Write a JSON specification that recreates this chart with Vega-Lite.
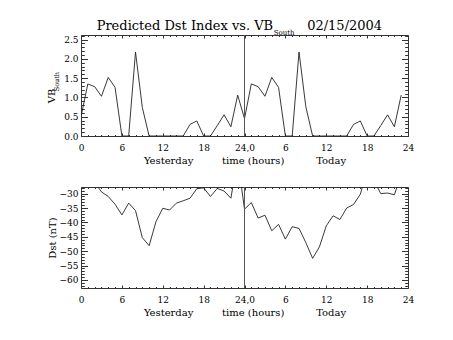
{
  "$schema": "https://vega.github.io/schema/vega-lite/v6.json",
  "padding": {"left": 46, "top": 19, "right": 5, "bottom": 5},
  "background": "white",
  "data": {"values": [
    {"h":0,"vb":0.50,"dst":-24},{"h":1,"vb":1.35,"dst":-25},{"h":2,"vb":1.28,"dst":-26},{"h":3,"vb":1.03,"dst":-29.4},
    {"h":4,"vb":1.52,"dst":-31.0},{"h":5,"vb":1.26,"dst":-33.7},{"h":6,"vb":0,"dst":-37.4},{"h":7,"vb":0,"dst":-33.3},
    {"h":8,"vb":2.18,"dst":-35.9},{"h":9,"vb":0.74,"dst":-45.3},{"h":10,"vb":0,"dst":-48.1},{"h":11,"vb":0,"dst":-39.8},
    {"h":12,"vb":0,"dst":-35.1},{"h":13,"vb":0,"dst":-35.7},{"h":14,"vb":0,"dst":-33.3},{"h":15,"vb":0,"dst":-32.5},
    {"h":16,"vb":0.30,"dst":-31.6},{"h":17,"vb":0.39,"dst":-28.3},{"h":18,"vb":0,"dst":-28.0},{"h":19,"vb":0,"dst":-31.0},
    {"h":20,"vb":0.27,"dst":-28.2},{"h":21,"vb":0.55,"dst":-29.1},{"h":22,"vb":0.24,"dst":-31.6},{"h":23,"vb":1.06,"dst":-18},
    {"h":24,"vb":0.45,"dst":-35.4},{"h":25,"vb":1.35,"dst":-33.1},{"h":26,"vb":1.28,"dst":-38.5},{"h":27,"vb":1.03,"dst":-37.5},
    {"h":28,"vb":1.52,"dst":-42.9},{"h":29,"vb":1.26,"dst":-40.7},{"h":30,"vb":0,"dst":-45.8},{"h":31,"vb":0,"dst":-41.5},
    {"h":32,"vb":2.18,"dst":-42.1},{"h":33,"vb":0.76,"dst":-47.0},{"h":34,"vb":0,"dst":-52.5},{"h":35,"vb":0,"dst":-48.5},
    {"h":36,"vb":0,"dst":-41.2},{"h":37,"vb":0,"dst":-37.7},{"h":38,"vb":0,"dst":-39.0},{"h":39,"vb":0,"dst":-35.0},
    {"h":40,"vb":0.30,"dst":-33.8},{"h":41,"vb":0.39,"dst":-30.2},{"h":42,"vb":0,"dst":-22},{"h":43,"vb":0,"dst":-25.4},
    {"h":44,"vb":0.27,"dst":-30.0},{"h":45,"vb":0.55,"dst":-29.8},{"h":46,"vb":0.24,"dst":-30.4},{"h":47,"vb":1.06,"dst":-23.5}
  ]},
  "vconcat": [
    {
      "width": 327, "height": 101,
      "layer": [
        {
          "mark": {"type": "line", "clip": true, "color": "#222222", "strokeWidth": 0.9},
          "encoding": {
            "x": {"field": "h", "type": "quantitative", "scale": {"domain": [0, 48], "nice": false, "zero": false},
              "axis": {"orient": "bottom", "values": [0,1,2,3,4,5,6,7,8,9,10,11,12,13,14,15,16,17,18,19,20,21,22,23,24,25,26,27,28,29,30,31,32,33,34,35,36,37,38,39,40,41,42,43,44,45,46,47,48],
                "labelExpr": "datum.value % 6 == 0 ? (datum.value == 24 ? '24,0' : toString(datum.value > 24 ? datum.value - 24 : datum.value)) : ''",
                "tickSize": {"condition": {"test": "datum.value % 6 == 0", "value": -3}, "value": -1.5},
                "labelPadding": 10, "title": "Yesterday\u00a0\u00a0\u00a0\u00a0\u00a0\u00a0\u00a0\u00a0\u00a0time (hours)\u00a0\u00a0\u00a0\u00a0\u00a0\u00a0\u00a0\u00a0\u00a0\u00a0Today", "titlePadding": 2}},
            "y": {"field": "vb", "type": "quantitative", "scale": {"domain": [0, 2.62], "nice": false, "zero": false},
              "axis": {"orient": "left", "values": [0,0.1,0.2,0.3,0.4,0.5,0.6,0.7,0.8,0.9,1,1.1,1.2,1.3,1.4,1.5,1.6,1.7,1.8,1.9,2,2.1,2.2,2.3,2.4,2.5,2.6],
                "labelExpr": "abs(datum.value*2 - round(datum.value*2)) < 0.001 ? format(datum.value, '.1f') : ''",
                "tickSize": {"condition": {"test": "abs(datum.value*2 - round(datum.value*2)) < 0.001", "value": -6.5}, "value": -3.3},
                "labelPadding": 9.5, "title": null}}
          }
        },
        {
          "data": {"values": [{"a": 1}]},
          "mark": {"type": "rule", "color": "#555555", "strokeWidth": 1},
          "encoding": {
            "x": {"datum": 24, "type": "quantitative",
              "axis": {"orient": "top", "values": [0,1,2,3,4,5,6,7,8,9,10,11,12,13,14,15,16,17,18,19,20,21,22,23,24,25,26,27,28,29,30,31,32,33,34,35,36,37,38,39,40,41,42,43,44,45,46,47,48],
                "labels": false, "tickSize": {"condition": {"test": "datum.value % 6 == 0", "value": -3}, "value": -1.5}, "title": null}},
            "y": {"datum": 0, "type": "quantitative",
              "axis": {"orient": "right", "values": [0,0.1,0.2,0.3,0.4,0.5,0.6,0.7,0.8,0.9,1,1.1,1.2,1.3,1.4,1.5,1.6,1.7,1.8,1.9,2,2.1,2.2,2.3,2.4,2.5,2.6],
                "labels": false, "tickSize": {"condition": {"test": "abs(datum.value*2 - round(datum.value*2)) < 0.001", "value": -6.5}, "value": -3.3}, "title": null}},
            "y2": {"datum": 2.62}
          }
        },
        {
          "data": {"values": [{"t": "VB"}]},
          "mark": {"type": "text", "angle": 270, "align": "center", "baseline": "middle", "fontSize": 10},
          "encoding": {"x": {"datum": -4.26, "type": "quantitative", "axis": null}, "y": {"datum": 1.04, "type": "quantitative", "axis": null}, "text": {"field": "t"}}
        },
        {
          "data": {"values": [{"t": "South"}]},
          "mark": {"type": "text", "angle": 270, "align": "center", "baseline": "middle", "fontSize": 6.5},
          "encoding": {"x": {"datum": -3.48, "type": "quantitative", "axis": null}, "y": {"datum": 1.41, "type": "quantitative", "axis": null}, "text": {"field": "t"}}
        },
        {
          "data": {"values": [{"t": "Predicted Dst Index vs. VB"}]},
          "mark": {"type": "text", "align": "right", "baseline": "alphabetic", "fontSize": 13, "dy": -5},
          "encoding": {"x": {"datum": 28.2, "type": "quantitative", "axis": null}, "y": {"datum": 2.62, "type": "quantitative", "axis": null}, "text": {"field": "t"}}
        },
        {
          "data": {"values": [{"t": "South"}]},
          "mark": {"type": "text", "align": "left", "baseline": "alphabetic", "fontSize": 7, "dy": -0.5},
          "encoding": {"x": {"datum": 28.3, "type": "quantitative", "axis": null}, "y": {"datum": 2.62, "type": "quantitative", "axis": null}, "text": {"field": "t"}}
        },
        {
          "data": {"values": [{"t": "02/15/2004"}]},
          "mark": {"type": "text", "align": "left", "baseline": "alphabetic", "fontSize": 13, "dy": -5},
          "encoding": {"x": {"datum": 33.2, "type": "quantitative", "axis": null}, "y": {"datum": 2.62, "type": "quantitative", "axis": null}, "text": {"field": "t"}}
        }
      ],
      "resolve": {"axis": {"x": "independent", "y": "independent"}}
    },
    {
      "width": 327, "height": 101,
      "layer": [
        {
          "mark": {"type": "line", "clip": true, "color": "#222222", "strokeWidth": 0.9},
          "encoding": {
            "x": {"field": "h", "type": "quantitative", "scale": {"domain": [0, 48], "nice": false, "zero": false},
              "axis": {"orient": "bottom", "values": [0,1,2,3,4,5,6,7,8,9,10,11,12,13,14,15,16,17,18,19,20,21,22,23,24,25,26,27,28,29,30,31,32,33,34,35,36,37,38,39,40,41,42,43,44,45,46,47,48],
                "labelExpr": "datum.value % 6 == 0 ? (datum.value == 24 ? '24,0' : toString(datum.value > 24 ? datum.value - 24 : datum.value)) : ''",
                "tickSize": {"condition": {"test": "datum.value % 6 == 0", "value": -3}, "value": -1.5},
                "labelPadding": 10, "title": "Yesterday\u00a0\u00a0\u00a0\u00a0\u00a0\u00a0\u00a0\u00a0\u00a0time (hours)\u00a0\u00a0\u00a0\u00a0\u00a0\u00a0\u00a0\u00a0\u00a0\u00a0Today", "titlePadding": 2}},
            "y": {"field": "dst", "type": "quantitative", "scale": {"domain": [-62.8, -27.7], "nice": false, "zero": false},
              "axis": {"orient": "left", "values": [-62,-61,-60,-59,-58,-57,-56,-55,-54,-53,-52,-51,-50,-49,-48,-47,-46,-45,-44,-43,-42,-41,-40,-39,-38,-37,-36,-35,-34,-33,-32,-31,-30,-29,-28],
                "labelExpr": "datum.value % 5 == 0 ? format(datum.value, 'd') : ''",
                "tickSize": {"condition": {"test": "datum.value % 5 == 0", "value": -6.5}, "value": -3.3},
                "labelPadding": 9.5, "title": "Dst (nT)", "titlePadding": 2}}
          }
        },
        {
          "data": {"values": [{"a": 1}]},
          "mark": {"type": "rule", "color": "#555555", "strokeWidth": 1},
          "encoding": {
            "x": {"datum": 24, "type": "quantitative",
              "axis": {"orient": "top", "values": [0,1,2,3,4,5,6,7,8,9,10,11,12,13,14,15,16,17,18,19,20,21,22,23,24,25,26,27,28,29,30,31,32,33,34,35,36,37,38,39,40,41,42,43,44,45,46,47,48],
                "labels": false, "tickSize": {"condition": {"test": "datum.value % 6 == 0", "value": -3}, "value": -1.5}, "title": null}},
            "y": {"datum": -62.8, "type": "quantitative",
              "axis": {"orient": "right", "values": [-62,-61,-60,-59,-58,-57,-56,-55,-54,-53,-52,-51,-50,-49,-48,-47,-46,-45,-44,-43,-42,-41,-40,-39,-38,-37,-36,-35,-34,-33,-32,-31,-30,-29,-28],
                "labels": false, "tickSize": {"condition": {"test": "datum.value % 5 == 0", "value": -6.5}, "value": -3.3}, "title": null}},
            "y2": {"datum": -27.7}
          }
        }
      ],
      "resolve": {"axis": {"x": "independent", "y": "independent"}}
    }
  ],
  "spacing": 51,
  "bounds": "flush",
  "config": {
    "view": {"stroke": "#333333", "strokeWidth": 1},
    "font": "DejaVu Serif",
    "axis": {"labelFont": "DejaVu Serif", "titleFont": "DejaVu Serif", "labelColor": "black", "titleColor": "black", "tickColor": "#333333", "tickWidth": 1,
      "labelFontSize": 9, "titleFontSize": 10, "titleFontWeight": "normal", "grid": false, "domain": false, "labelFlush": false, "labelOverlap": false},
    "text": {"font": "DejaVu Serif", "color": "black"}
  }
}
